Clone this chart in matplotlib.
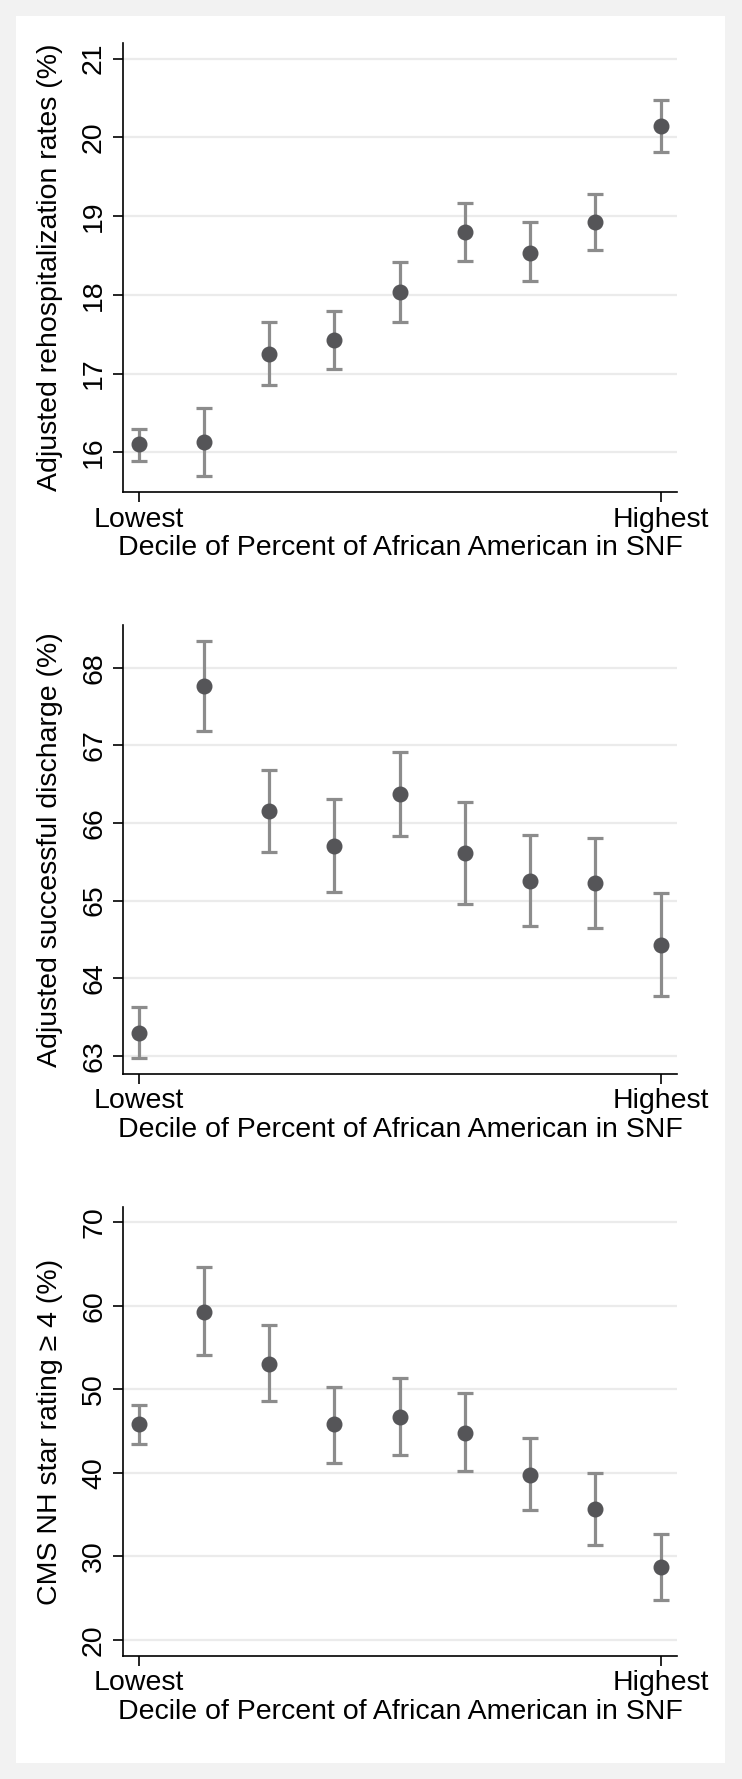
import numpy as np
import matplotlib
matplotlib.use("Agg")
import matplotlib.pyplot as plt
from matplotlib.patches import Rectangle

plt.rcParams['font.family'] = ['Liberation Sans', 'DejaVu Sans']
plt.rcParams['font.size'] = 20.5

deciles = [1, 2, 3, 4, 5, 6, 7, 8, 9]
tick_labels = ['Lowest', 'Highest']
x_title = 'Decile of Percent of African American in SNF'

# panel 1: rehospitalization
rehosp = [16.10, 16.13, 17.25, 17.43, 18.03, 18.80, 18.53, 18.93, 20.14]
rehosp_lo = [15.89, 15.70, 16.85, 17.06, 17.65, 18.43, 18.17, 18.57, 19.81]
rehosp_hi = [16.29, 16.56, 17.66, 17.79, 18.42, 19.16, 18.92, 19.28, 20.48]

# panel 2: successful discharge
discharge = [63.30, 67.76, 66.15, 65.71, 66.37, 65.61, 65.25, 65.23, 64.43]
discharge_lo = [62.97, 67.18, 65.62, 65.11, 65.83, 64.95, 64.67, 64.65, 63.77]
discharge_hi = [63.63, 68.35, 66.68, 66.31, 66.92, 66.27, 65.85, 65.81, 65.10]

# panel 3: star rating >= 4
star = [45.8, 59.3, 53.1, 45.8, 46.7, 44.8, 39.8, 35.7, 28.7]
star_lo = [43.5, 54.1, 48.6, 41.2, 42.1, 40.2, 35.5, 31.4, 24.8]
star_hi = [48.1, 64.6, 57.7, 50.3, 51.4, 49.6, 44.2, 40.0, 32.7]

MARKER = '#555558'
BAR = '#8c8c8c'
GRID = '#ebebeb'


def draw_panel(ax, y, lo, hi, ylabel, yticks, ylim):
    y = np.array(y)
    err = [y - np.array(lo), np.array(hi) - y]
    ax.errorbar(deciles, y, yerr=err, fmt='none', ecolor=BAR,
                elinewidth=2.3, capsize=5.8, capthick=2.3, zorder=2)
    ax.plot(deciles, y, 'o', color=MARKER, markersize=10.5, zorder=3)

    ax.set_xlim(0.76, 9.25)
    ax.set_ylim(*ylim)
    ax.set_yticks(yticks)
    ax.set_xticks([deciles[0], deciles[-1]])
    ax.set_xticklabels(tick_labels)
    ax.grid(axis='y', color=GRID, linewidth=1.6, zorder=0)
    ax.set_axisbelow(True)

    for s in ['top', 'right']:
        ax.spines[s].set_visible(False)
    for s in ['left', 'bottom']:
        ax.spines[s].set_linewidth(1.2)

    ax.tick_params(axis='y', length=7.5, width=1.2, pad=4, labelrotation=90)
    ax.tick_params(axis='x', length=7.2, width=1.2, pad=3)
    for lab in ax.get_yticklabels():
        lab.set_va('center')

    ax.set_ylabel(ylabel)
    ax.yaxis.set_label_coords(-0.109, 0.5)
    ax.set_xlabel(x_title, labelpad=2)


fig = plt.figure(figsize=(7.42, 17.79), dpi=100, facecolor='#f2f2f2')
# white plot region inside the grey border
bg = fig.add_axes([0, 0, 1, 1], zorder=-10)
bg.axis('off')
bg.add_patch(Rectangle((16 / 742, 1 - 1763 / 1779), 709 / 742, 1747 / 1779,
                       transform=fig.transFigure, facecolor='white', edgecolor='none'))

left, width = 0.1658, 0.7466
ax1 = fig.add_axes([left, 0.7232, width, 0.2527])
ax2 = fig.add_axes([left, 0.3965, width, 0.2521])
ax3 = fig.add_axes([left, 0.0690, width, 0.2527])
for ax in (ax1, ax2, ax3):
    ax.set_facecolor('none')

draw_panel(ax1, rehosp, rehosp_lo, rehosp_hi,
           'Adjusted rehospitalization rates (%)', [16, 17, 18, 19, 20, 21], (15.49, 21.2))
draw_panel(ax2, discharge, discharge_lo, discharge_hi,
           'Adjusted successful discharge (%)', [63, 64, 65, 66, 67, 68], (62.77, 68.55))
draw_panel(ax3, star, star_lo, star_hi,
           'CMS NH star rating \u2265 4 (%)', [20, 30, 40, 50, 60, 70], (18.04, 71.88))

fig.savefig('out.png', dpi=100, facecolor=fig.get_facecolor())
